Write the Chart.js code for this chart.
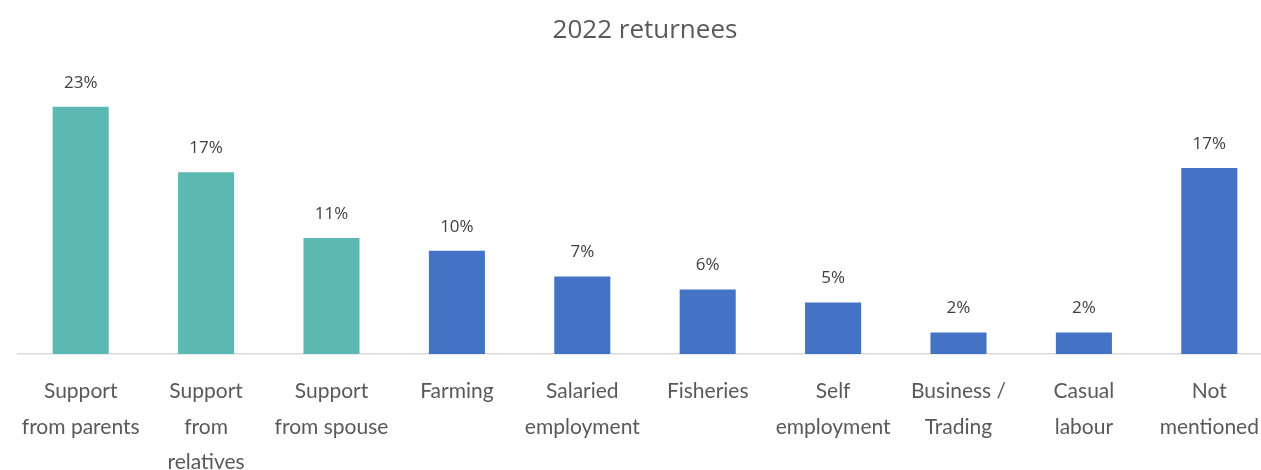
<!DOCTYPE html>
<html>
<head>
<meta charset="utf-8">
<script src="https://cdn.jsdelivr.net/npm/chart.js@4.4.1/dist/chart.umd.min.js"></script>
<style>
  html, body { margin: 0; padding: 0; background: #fff; }
  #wrap { width: 1261px; height: 470px; overflow: hidden; }
</style>
</head>
<body>
<div id="wrap"><canvas id="myChart" width="1290" height="470"></canvas></div>
<script>
const categories = [
    ['Support', 'from parents'],
    ['Support', 'from', 'relatives'],
    ['Support', 'from spouse'],
    'Farming',
    ['Salaried', 'employment'],
    'Fisheries',
    ['Self', 'employment'],
    ['Business /', 'Trading'],
    ['Casual', 'labour'],
    ['Not', 'mentioned']
];
const shares = [23.0, 16.9, 10.8, 9.6, 7.2, 6.0, 4.8, 2.0, 2.0, 17.3];
const barGroup = ['support', 'support', 'support', 'work', 'work', 'work', 'work', 'work', 'work', 'other'];

const colours = { support: '#5cb8b2', work: '#4472c4', other: '#4472c4' };

// draws the % value above each bar
const valueLabels = {
    id: 'valueLabels',
    afterDatasetsDraw(chart) {
        const c = chart.ctx;
        const meta = chart.getDatasetMeta(0);
        c.save();
        c.font = '17px "Open Sans", sans-serif';
        c.fillStyle = '#404040';
        c.textAlign = 'center';
        c.textBaseline = 'middle';
        meta.data.forEach((bar, i) => {
            c.fillText(Math.round(shares[i]) + '%', bar.x, bar.y - 24);
        });
        c.restore();
    }
};

const ctx = document.getElementById('myChart').getContext('2d');
const myChart = new Chart(ctx, {
    type: 'bar',
    data: {
        labels: categories,
        datasets: [{
            label: '2022 returnees',
            data: shares,
            backgroundColor: barGroup.map(g => colours[g]),
            borderWidth: 0,
            barPercentage: 0.447,
            categoryPercentage: 1
        }]
    },
    plugins: [valueLabels],
    options: {
        responsive: false,
        animation: false,
        layout: { padding: { left: 18, right: 18, top: 0, bottom: 0 } },
        plugins: {
            legend: { display: false },
            tooltip: { enabled: false },
            title: {
                display: true,
                text: '2022 returnees',
                color: '#595959',
                font: { family: '"Open Sans", sans-serif', size: 26, weight: 'normal', lineHeight: 1.2 },
                padding: { top: 15, bottom: 39 }
            }
        },
        scales: {
            x: {
                grid: { display: false, drawTicks: false },
                border: { display: true, color: '#d9d9d9', width: 1.5 },
                ticks: {
                    color: '#595959',
                    padding: 20,
                    maxRotation: 0,
                    autoSkip: false,
                    font: { family: 'Lato, sans-serif', size: 21, lineHeight: 1.68 }
                },
                afterFit: (scale) => { scale.height = 116; }
            },
            y: {
                display: false,
                min: 0,
                max: 25
            }
        }
    }
});
</script>
</body>
</html>
